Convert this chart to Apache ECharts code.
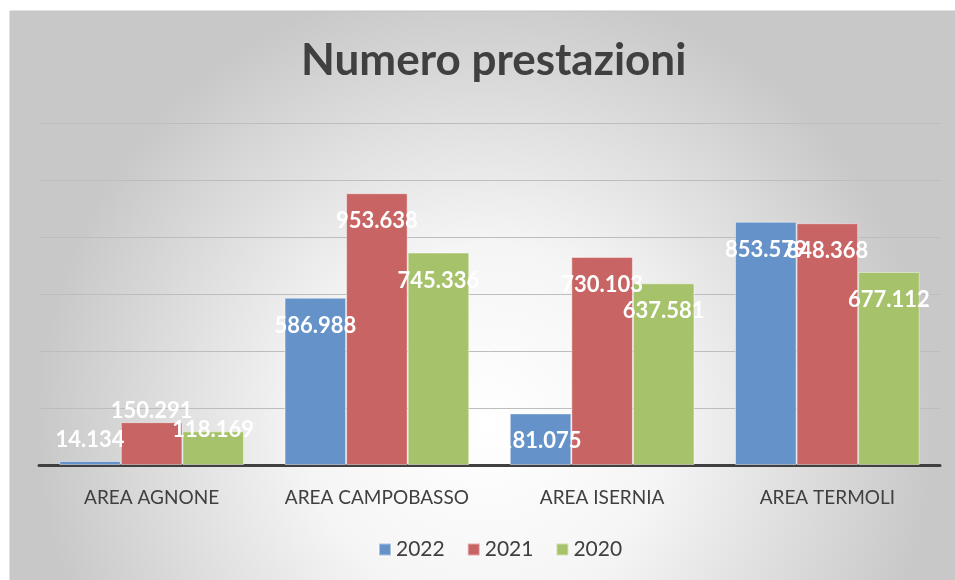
<!DOCTYPE html>
<html>
<head>
<meta charset="utf-8">
<script src="https://cdn.jsdelivr.net/npm/echarts@6/dist/echarts.min.js"></script>
<style>
  html, body { margin: 0; padding: 0; background: #fff; }
  #chart { width: 955px; height: 580px; }
</style>
</head>
<body>
<div id="chart"></div>
<script>
// data (values in units, Italian thousands separator in labels)
const categories = ["AREA AGNONE", "AREA CAMPOBASSO", "AREA ISERNIA", "AREA TERMOLI"];
const years = ["2022", "2021", "2020"];
const values2022 = [14134, 586988, 181075, 853579];
const values2021 = [150291, 953638, 730103, 848368];
const values2020 = [118169, 745336, 637581, 677112];
const yTicks = [0, 200000, 400000, 600000, 800000, 1000000, 1200000];

const colors = ["#6593c9", "#c86463", "#a6c36b"];

// Agnone bars are too short for the label to sit inside, Excel moves it up
const shortLabelShift = { "2022": 10, "2021": 0, "2020": -10 };

const fmt = (v) => v.toString().replace(/\B(?=(\d{3})+(?!\d))/g, ".");

const chart = echarts.init(document.getElementById("chart"));

function makeSeries(name, values, idx) {
  return {
    name: name,
    type: "bar",
    barGap: 0,
    barCategoryGap: "18%",
    itemStyle: {
      color: colors[idx],
      borderColor: "rgba(255,255,255,0.45)",
      borderWidth: 1,
    },
    label: {
      show: true,
      position: "insideTop",
      distance: 17,
      color: "#fff",
      fontFamily: "Lato",
      fontWeight: "bold",
      fontSize: 22,
      formatter: (p) => fmt(p.value),
    },
    data: values.map((v, i) => {
      if (i === 0) {
        return {
          value: v,
          label: { position: "top", distance: shortLabelShift[name] },
        };
      }
      return v;
    }),
  };
}

const option = {
  animation: false,
  color: colors,
  graphic: [
    {
      type: "rect",
      z: -10,
      shape: { x: 10, y: 11, width: 950, height: 575 },
      style: {
        fill: {
          type: "radial",
          x: 0.5,
          y: 0.72,
          r: 0.78,
          colorStops: [
            { offset: 0, color: "#ffffff" },
            { offset: 0.4, color: "#f5f5f5" },
            { offset: 1, color: "#c8c8c8" },
          ],
        },
        stroke: "#c4c4c4",
        lineWidth: 1,
      },
    },
  ],
  title: {
    text: "Numero prestazioni",
    left: 296,
    top: 34,
    textStyle: {
      fontFamily: "Lato",
      fontWeight: "bold",
      fontSize: 44,
      color: "#404040",
    },
  },
  legend: {
    data: years,
    bottom: 15,
    left: 373,
    icon: "rect",
    itemWidth: 12,
    itemHeight: 12,
    itemGap: 22,
    textStyle: { fontFamily: "Lato", fontSize: 21, color: "#404040" },
  },
  grid: { left: 39, right: 15, top: 123, bottom: 115 },
  xAxis: {
    type: "category",
    data: categories,
    axisTick: { show: false },
    axisLine: { lineStyle: { color: "#404040", width: 3 } },
    axisLabel: {
      interval: 0,
      margin: 23,
      fontFamily: "Lato",
      fontSize: 19,
      color: "#404040",
    },
  },
  yAxis: {
    type: "value",
    min: yTicks[0],
    max: yTicks[yTicks.length - 1],
    interval: yTicks[1] - yTicks[0],
    axisLabel: { show: false },
    axisLine: { show: false },
    axisTick: { show: false },
    splitLine: { lineStyle: { color: "#bdbdbd", width: 1 } },
  },
  series: [
    makeSeries(years[0], values2022, 0),
    makeSeries(years[1], values2021, 1),
    makeSeries(years[2], values2020, 2),
  ],
};

chart.setOption(option);
</script>
</body>
</html>
